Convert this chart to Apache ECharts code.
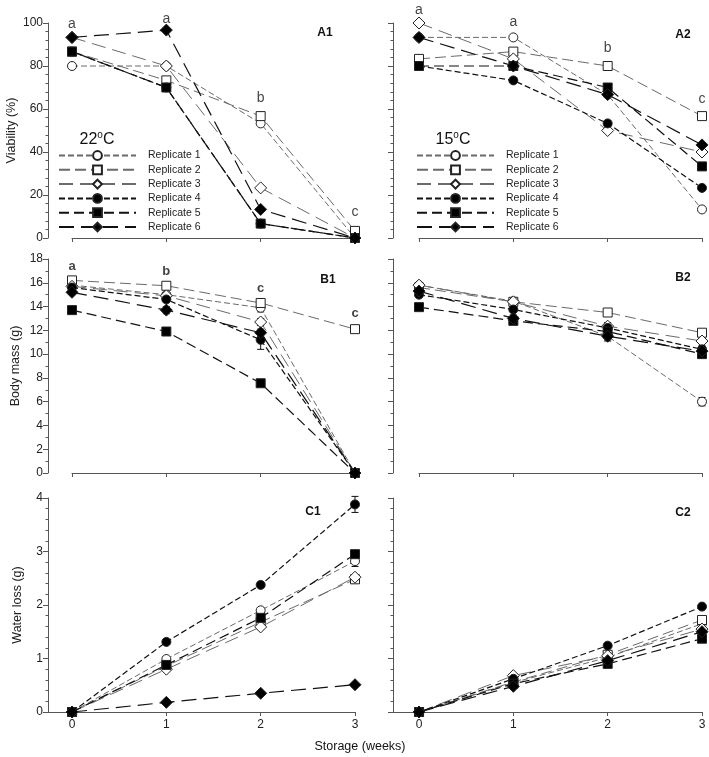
<!DOCTYPE html>
<html><head><meta charset="utf-8">
<script src="https://cdn.jsdelivr.net/npm/echarts@6/dist/echarts.min.js"></script>
<style>html,body{margin:0;padding:0;background:#fff}#c{width:709px;height:757px}</style>
</head><body><div id="c"></div>
<script>
// ---------- data ----------
const weeks = [0, 1, 2, 3];
const replicates = ['Replicate 1', 'Replicate 2', 'Replicate 3', 'Replicate 4', 'Replicate 5', 'Replicate 6'];

// Viability (%) 22 °C  (rows = replicates 1..6, cols = weeks 0..3)
const viab22 = [
  [80, 80, 53.3, 0],
  [86.7, 73.3, 56.7, 3.3],
  [93.3, 80, 23.3, 0],
  [86.7, 70, 6.7, 0],
  [86.7, 70, 6.7, 0],
  [93.3, 96.7, 13.3, 0]
];
// Viability (%) 15 °C
const viab15 = [
  [93.3, 93.3, 66.7, 13.3],
  [83.3, 86.7, 80, 56.7],
  [100, 83.3, 50, 40],
  [80, 73.3, 53.3, 23.3],
  [80, 80, 70, 33.3],
  [93.3, 80, 66.7, 43.3]
];
// Body mass (g) 22 °C
const mass22 = [
  [15.8, 15.0, 13.9, 0],
  [16.2, 15.75, 14.3, 12.1],
  [15.7, 14.9, 12.7, 0],
  [15.6, 14.6, 11.2, 0],
  [13.7, 11.9, 7.55, 0],
  [15.2, 13.7, 11.8, 0]
];
const massErr22 = [
  [0.1, 0.15, 0.35, 0],
  [0.1, 0.1, 0.2, 0.1],
  [0.1, 0.1, 0.3, 0],
  [0.15, 0.2, 0.8, 0],
  [0.15, 0.15, 0.2, 0],
  [0.2, 0.3, 0.3, 0]
];
// Body mass (g) 15 °C
const mass15 = [
  [15.8, 14.45, 11.5, 6.0],
  [15.6, 14.4, 13.5, 11.8],
  [15.8, 14.4, 12.35, 11.1],
  [15.0, 13.75, 12.2, 10.4],
  [13.95, 12.8, 11.9, 10.0],
  [15.3, 13.0, 11.5, 10.25]
];
const massErr15 = [
  [0.1, 0.15, 0.4, 0.35],
  [0.1, 0.1, 0.15, 0.15],
  [0.1, 0.1, 0.3, 0.2],
  [0.15, 0.2, 0.3, 0.3],
  [0.1, 0.2, 0.3, 0.3],
  [0.2, 0.3, 0.3, 0.3]
];
// Water loss (g) 22 °C
const water22 = [
  [0, 0.99, 1.9, 2.82],
  [0, 0.86, 1.68, 2.48],
  [0, 0.8, 1.59, 2.52],
  [0, 1.31, 2.375, 3.88],
  [0, 0.88, 1.76, 2.95],
  [0, 0.18, 0.35, 0.51]
];
const waterErr22 = [
  [0, 0.03, 0.05, 0.1],
  [0, 0.03, 0.05, 0.05],
  [0, 0.03, 0.05, 0.05],
  [0, 0.03, 0.05, 0.15],
  [0, 0.03, 0.05, 0.05],
  [0, 0.02, 0.03, 0.03]
];
// Water loss (g) 15 °C
const water15 = [
  [0, 0.55, 1.02, 1.65],
  [0, 0.56, 1.07, 1.72],
  [0, 0.68, 1.05, 1.55],
  [0, 0.62, 1.24, 1.97],
  [0, 0.53, 0.9, 1.37],
  [0, 0.48, 0.96, 1.5]
];

// significance letters
const lettersA1 = ['a', 'a', 'b', 'c'];
const letterPosA1 = [99.5, 102, 65, 12.2];
const lettersA2 = ['a', 'a', 'b', 'c'];
const letterPosA2 = [106, 100.6, 88.2, 64.7];
const lettersB1 = ['a', 'b', 'c', 'c'];
const letterPosB1 = [17.35, 16.93, 15.53, 13.4];

// ---------- styles ----------
const FONT = '"Liberation Sans", Arial, sans-serif';
const symbols = ['circle', 'rect', 'diamond', 'circle', 'rect', 'diamond'];
const symSize = [9, 9, 12, 9, 9, 12];
const filled = [false, false, false, true, true, true];
const dashes = [[6, 3], [11, 5], [14, 7], [6, 3], [10, 5], [15, 7]];
const lineCol = ['#6a6a6a', '#6a6a6a', '#6a6a6a', '#111', '#111', '#111'];
const lineW = [1, 1, 1, 1.2, 1.2, 1.2];
const axisCol = '#555';

const grids = [
  {left: 72, top: 23, width: 283, height: 215},
  {left: 419, top: 23, width: 283, height: 215},
  {left: 72, top: 259, width: 283, height: 214},
  {left: 419, top: 259, width: 283, height: 214},
  {left: 48, top: 498, width: 307, height: 214},
  {left: 393, top: 498, width: 309, height: 214}
];

const xAxes = [];
const yAxes = [];
for (let g = 0; g < 6; g++) {
  const isC = g >= 4;
  const xa = {
    type: 'value', gridIndex: g, max: 3,
    axisLine: {show: true, onZero: false, lineStyle: {color: axisCol, width: 1}},
    axisTick: {show: true, length: 4, lineStyle: {color: axisCol}},
    splitLine: {show: false},
    axisLabel: {show: isC, color: '#222', fontSize: 12, fontFamily: FONT, margin: 7}
  };
  if (isC) {
    xa.min = g === 4 ? -0.255 : -0.276;
    xa.axisTick.customValues = weeks;
    xa.axisLabel.customValues = weeks;
  } else {
    xa.min = 0; xa.interval = 1;
  }
  xAxes.push(xa);
  const left = g % 2 === 0;
  const ya = {
    type: 'value', gridIndex: g,
    offset: isC ? 0 : (left ? 24 : 26),
    axisLine: {show: true, onZero: false, lineStyle: {color: axisCol, width: 1}},
    axisTick: {show: true, length: 5, lineStyle: {color: axisCol}},
    minorTick: {show: true, length: 2.5, lineStyle: {color: axisCol}},
    splitLine: {show: false},
    axisLabel: {show: left, color: '#222', fontSize: 12, fontFamily: FONT, margin: 5},
    nameLocation: 'middle', nameRotate: 90, nameGap: 26,
    nameTextStyle: {color: '#222', fontSize: 12.5, fontFamily: FONT}
  };
  if (g < 2) { ya.min = 0; ya.max = 100; ya.interval = 20; ya.minorTick.splitNumber = 5; }
  else if (g < 4) { ya.min = 0; ya.max = 18; ya.interval = 2; ya.minorTick.splitNumber = 2; }
  else { ya.min = 0; ya.max = 4; ya.interval = 1; ya.minorTick.splitNumber = 5; }
  if (g === 0) { ya.name = 'Viability (%)'; ya.nameGap = 30; }
  if (g === 2) { ya.name = 'Body mass (g)'; ya.nameGap = 26; }
  if (g === 4) { ya.name = 'Water loss (g)'; ya.nameGap = 24; }
  yAxes.push(ya);
}

const panels = [viab22, viab15, mass22, mass15, water22, water15];
const errs = [null, null, massErr22, massErr15, waterErr22, null];

const series = [];
panels.forEach((tbl, g) => {
  if (errs[g]) {
    const ed = [];
    tbl.forEach((row, r) => row.forEach((v, i) => {
      const e = errs[g][r][i];
      if (e > 0) ed.push([weeks[i], v - e, v + e]);
    }));
    series.push({
      type: 'custom', xAxisIndex: g, yAxisIndex: g, silent: true, z: 1, clip: false,
      data: ed,
      renderItem: (params, api) => {
        const a = api.coord([api.value(0), api.value(1)]);
        const b = api.coord([api.value(0), api.value(2)]);
        const st = {stroke: '#111', lineWidth: 1};
        return {type: 'group', children: [
          {type: 'line', shape: {x1: a[0], y1: a[1], x2: b[0], y2: b[1]}, style: st},
          {type: 'line', shape: {x1: a[0] - 3.5, y1: a[1], x2: a[0] + 3.5, y2: a[1]}, style: st},
          {type: 'line', shape: {x1: b[0] - 3.5, y1: b[1], x2: b[0] + 3.5, y2: b[1]}, style: st}
        ]};
      }
    });
  }
  tbl.forEach((row, r) => {
    series.push({
      name: replicates[r], type: 'line', xAxisIndex: g, yAxisIndex: g,
      data: row.map((v, i) => [weeks[i], v]),
      symbol: symbols[r], symbolSize: symSize[r], showAllSymbol: true, clip: false,
      lineStyle: {color: lineCol[r], width: lineW[r], type: dashes[r]},
      itemStyle: {color: filled[r] ? '#000' : '#fff', borderColor: '#222', borderWidth: 1, opacity: 1},
      emphasis: {disabled: true}, animation: false, z: 2 + r
    });
  });
});

function letterSeries(g, letters, pos, bold, size) {
  return {
    type: 'scatter', xAxisIndex: g, yAxisIndex: g, symbolSize: 0, clip: false, silent: true, z: 20,
    data: letters.map((t, i) => ({name: t, value: [weeks[i], pos[i]]})),
    label: {show: true, position: 'inside', formatter: p => p.name, color: '#111',
      fontSize: size, fontWeight: bold ? 'bold' : 'normal', fontFamily: FONT},
    animation: false
  };
}
series.push(letterSeries(0, lettersA1, letterPosA1, false, 14));
series.push(letterSeries(1, lettersA2, letterPosA2, false, 14));
series.push(letterSeries(2, lettersB1, letterPosB1, true, 13));

const txt = (text, x, y, font, rich) => ({
  type: 'text', x, y, silent: true,
  style: {text, font, fill: '#111', align: 'center', verticalAlign: 'middle', rich}
});
const supRich = {s: {fontSize: 10, fontFamily: FONT, fill: '#111', verticalAlign: 'top', padding: [0, 0, 9, 0]}};

const legendBase = (left) => ({
  data: replicates, orient: 'vertical', left, top: 145, itemWidth: 77, itemHeight: 11, itemGap: 3.3,
  textStyle: {fontSize: 10.5, color: '#222', fontFamily: FONT, padding: [0, 0, 0, 7]},
  selectedMode: false
});

const option = {
  animation: false,
  backgroundColor: '#fff',
  grid: grids,
  xAxis: xAxes,
  yAxis: yAxes,
  legend: [legendBase(53), legendBase(411)],
  graphic: [
    txt('A1', 325, 33, 'bold 12px ' + FONT), txt('A2', 683, 35, 'bold 12px ' + FONT),
    txt('B1', 328, 280, 'bold 12px ' + FONT), txt('B2', 683, 278, 'bold 12px ' + FONT),
    txt('C1', 313, 512, 'bold 12px ' + FONT), txt('C2', 683, 513, 'bold 12px ' + FONT),
    txt('22{s|o}C', 97, 140, '16px ' + FONT, supRich),
    txt('15{s|o}C', 453, 140, '16px ' + FONT, supRich),
    txt('Storage (weeks)', 360, 747, '12.5px ' + FONT)
  ],
  series
};
const chart = echarts.init(document.getElementById('c'), null, {renderer: 'canvas'});
chart.setOption(option);
</script></body></html>
